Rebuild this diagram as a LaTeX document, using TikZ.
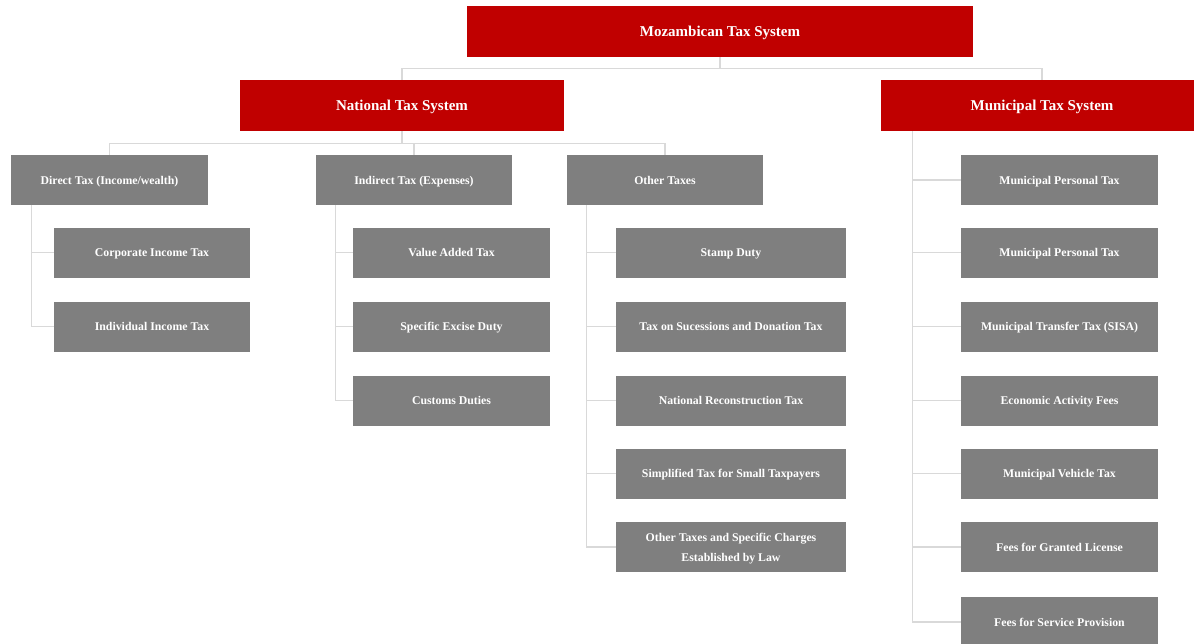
\documentclass[tikz,border=0pt]{standalone}
\usepackage{fontspec}
\setmainfont{Liberation Serif}
\usetikzlibrary{calc}
\definecolor{redbox}{HTML}{C00000}
\definecolor{greybox}{HTML}{7F7F7F}
\definecolor{connc}{HTML}{D9D9D9}
\begin{document}
\begin{tikzpicture}[x=1pt,y=-1pt,
  redb/.style={fill=redbox,draw=none,text=white,font=\fontsize{15}{18}\selectfont\bfseries,minimum height=51pt,inner sep=0pt,text height=0.9em,text depth=0em},
  greyb/.style={fill=greybox,draw=none,text=white,font=\fontsize{11.8}{20}\selectfont\bfseries,minimum height=50pt,inner sep=0pt,align=center},
  oneline/.style={text height=0.88em,text depth=0em},
  conn/.style={draw=connc,line width=1.3pt}]
\useasboundingbox (0,0) rectangle (1194,643);
% level 0/1
\node[redb,minimum width=506pt] (top) at (720,31.5) {Mozambican Tax System};
\node[redb,minimum width=324pt] (nat) at (402,105.5) {National Tax System};
\node[redb,minimum width=322pt] (mun) at (1042,105.5) {Municipal Tax System};
% level 2
\node[greyb,oneline,minimum width=197pt] (dir) at (109.5,180) {Direct Tax (Income/wealth)};
\node[greyb,oneline,minimum width=196pt] (ind) at (414,180) {Indirect Tax (Expenses)};
\node[greyb,oneline,minimum width=196pt] (oth) at (665,180) {Other Taxes};
% direct children
\node[greyb,oneline,minimum width=196pt] (corp) at (152,252.5) {Corporate Income Tax};
\node[greyb,oneline,minimum width=196pt] (indiv) at (152,326.5) {Individual Income Tax};
% indirect children
\node[greyb,oneline,minimum width=197pt] (vat) at (451.5,252.5) {Value Added Tax};
\node[greyb,oneline,minimum width=197pt] (sed) at (451.5,326.5) {Specific Excise Duty};
\node[greyb,oneline,minimum width=197pt] (cus) at (451.5,400.5) {Customs Duties};
% other children
\node[greyb,oneline,minimum width=230pt] (stamp) at (731,252.5) {Stamp Duty};
\node[greyb,oneline,minimum width=230pt] (suc) at (731,326.5) {Tax on Sucessions and Donation Tax};
\node[greyb,oneline,minimum width=230pt] (nrt) at (731,400.5) {National Reconstruction Tax};
\node[greyb,oneline,minimum width=230pt] (simp) at (731,473.5) {Simplified Tax for Small Taxpayers};
\node[greyb,minimum width=230pt,minimum height=50pt] (otc) at (731,547) {};
\node[text=white,font=\fontsize{11.8}{20}\selectfont\bfseries,align=center,inner sep=0pt] (otct) at ($(otc.center)+(0,2)$) {Other Taxes and Specific Charges\\Established by Law};
% municipal children
\node[greyb,oneline,minimum width=197pt] (m1) at (1059.5,180) {Municipal Personal Tax};
\node[greyb,oneline,minimum width=197pt] (m2) at (1059.5,252.5) {Municipal Personal Tax};
\node[greyb,oneline,minimum width=197pt] (m3) at (1059.5,326.5) {Municipal Transfer Tax (SISA)};
\node[greyb,oneline,minimum width=197pt] (m4) at (1059.5,400.5) {Economic Activity Fees};
\node[greyb,oneline,minimum width=197pt] (m5) at (1059.5,473.5) {Municipal Vehicle Tax};
\node[greyb,oneline,minimum width=197pt] (m6) at (1059.5,547) {Fees for Granted License};
\node[greyb,oneline,minimum width=197pt] (m7) at (1059.5,622) {Fees for Service Provision};
% connectors
\coordinate (j0) at ($(top.south)+(0,11)$);
\draw[conn] (top.south) -- (j0);
\draw[conn] (j0) -| (nat.north);
\draw[conn] (j0) -| (mun.north);
\coordinate (j1) at ($(nat.south)+(0,12)$);
\draw[conn] (nat.south) -- (j1);
\draw[conn] (j1) -| (dir.north);
\draw[conn] (j1) -| (ind.north);
\draw[conn] (j1) -| (oth.north);
\coordinate (dv) at ($(dir.south west)+(21,0)$);
\draw[conn] (dv) |- (corp.west);
\draw[conn] (dv) |- (indiv.west);
\coordinate (iv) at ($(ind.south west)+(20,0)$);
\draw[conn] (iv) |- (vat.west);
\draw[conn] (iv) |- (sed.west);
\draw[conn] (iv) |- (cus.west);
\coordinate (ov) at ($(oth.south west)+(20,0)$);
\draw[conn] (ov) |- (stamp.west);
\draw[conn] (ov) |- (suc.west);
\draw[conn] (ov) |- (nrt.west);
\draw[conn] (ov) |- (simp.west);
\draw[conn] (ov) |- (otc.west);
\coordinate (mv) at ($(mun.south west)+(32,0)$);
\draw[conn] (mv) |- (m1.west);
\draw[conn] (mv) |- (m2.west);
\draw[conn] (mv) |- (m3.west);
\draw[conn] (mv) |- (m4.west);
\draw[conn] (mv) |- (m5.west);
\draw[conn] (mv) |- (m6.west);
\draw[conn] (mv) |- (m7.west);
\end{tikzpicture}
\end{document}
